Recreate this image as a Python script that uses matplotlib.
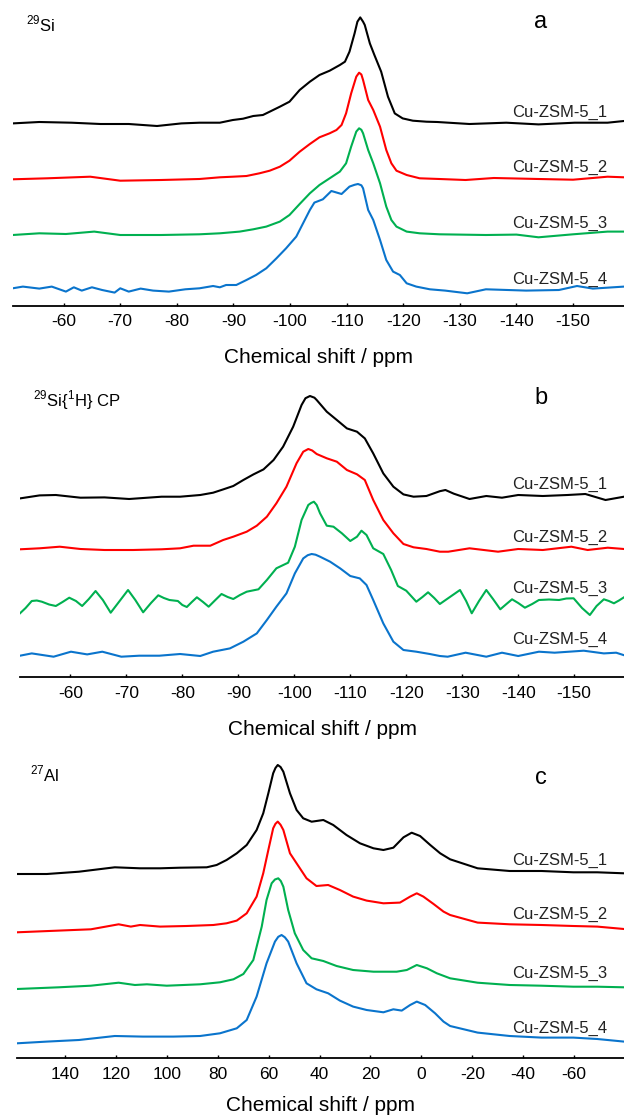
import numpy as np
import matplotlib

matplotlib.use("Agg")
import matplotlib.pyplot as plt

plt.rcParams["font.family"] = ["Liberation Sans", "DejaVu Sans"]
plt.rcParams["mathtext.fontset"] = "custom"
plt.rcParams["mathtext.rm"] = "Liberation Sans"
plt.rcParams["axes.unicode_minus"] = False

sample_labels = ["Cu-ZSM-5_1", "Cu-ZSM-5_2", "Cu-ZSM-5_3", "Cu-ZSM-5_4"]
colors = ["#000000", "#ff0000", "#00b050", "#0a74cc"]

# ---- panel a: 29Si MAS (ppm, intensity a.u.) ----
si_ppm_1 = [-51.0, -55.7, -61.4, -66.5, -71.5, -76.5, -80.8, -84.0, -87.6, -89.9,
            -91.7, -93.5, -95.2, -96.4, -98.2, -99.9, -101.7, -103.5, -105.2, -107.0,
            -108.8, -109.7, -110.5, -111.4, -111.9, -112.4, -112.9, -113.2, -114.1,
            -114.9, -116.1, -117.3, -118.5, -119.9, -121.7, -124.1, -126.0, -131.7,
            -138.2, -143.9, -150.3, -156.1, -159.0]
si_int_1 = [-0.7, 0.7, 0, -1.3, -1.3, -3.3, -0.7, 0, 0, 2.7,
            4, 6.7, 7.7, 11, 16, 21, 32.7, 41, 47.7, 52,
            57.7, 61, 71, 89.3, 101, 105.3, 101, 97.7, 79.3,
            67.7, 51, 26, 9.3, 4.3, 2, 1, 0.7, -1.3,
            0, -1.7, 0, 0, 1.7]
si_ppm_2 = [-51.0, -57.1, -64.7, -70.0, -77.2, -84.0, -87.6, -89.9, -92.3, -94.6,
            -96.4, -98.2, -99.9, -101.7, -103.5, -105.2, -107.0, -108.2, -109.1, -109.9,
            -110.8, -111.7, -112.2, -112.6, -112.9, -113.8, -114.7, -115.9, -117.0,
            -117.9, -118.8, -120.6, -122.9, -126.4, -131.0, -136.0, -143.9, -150.0,
            -156.1, -159.0]
si_int_2 = [-0.3, 0.7, 2.3, -1.7, -1, 0, 1.7, 2.3, 3, 5.7,
            8.3, 12.3, 18.3, 27.3, 35, 41.7, 45.7, 49, 54, 65.7,
            85.7, 102.3, 106.3, 104.5, 99, 79, 69, 52.3, 29,
            15.7, 8.3, 4, 0.7, 0, -1, 1, 0, -0.7,
            2.3, 1.7]
si_ppm_3 = [-51.0, -55.7, -60.4, -65.4, -70.0, -77.2, -84.0, -87.6, -91.1, -93.5,
            -95.8, -98.2, -99.9, -101.7, -103.5, -105.2, -107.0, -108.8, -109.9, -110.8,
            -111.7, -112.2, -112.6, -112.9, -113.8, -114.7, -115.9, -117.0, -117.9,
            -118.8, -120.6, -122.9, -126.4, -134.6, -140.0, -143.9, -150.0, -156.1, -159.0]
si_int_3 = [-0.7, 1, 0.3, 2.7, -0.7, -0.7, 0, 1, 2.7, 5,
            7.7, 12.7, 19.3, 30.3, 41, 49.3, 56, 62.7, 71, 87.7,
            102.7, 106, 104.5, 101, 84.3, 71, 51, 27.7, 14.3,
            7.7, 2.7, 1, 0, -0.7, -0.3, -3, 0, 2.7, 2.7]
si_ppm_4 = [-51.0, -52.8, -55.7, -57.9, -60.4, -61.8, -63.2, -65.0, -66.8, -69.0,
            -70.0, -71.5, -73.6, -75.8, -78.6, -81.5, -84.0, -86.4, -87.6, -88.7,
            -90.5, -92.3, -94.0, -95.8, -97.6, -99.3, -101.1, -102.3, -103.5, -104.3,
            -105.8, -107.3, -109.1, -110.5, -111.4, -112.0, -112.6, -112.9, -113.8,
            -114.7, -115.9, -117.0, -118.2, -119.4, -120.6, -122.3, -124.7, -127.4,
            -131.3, -134.6, -141.7, -147.5, -150.7, -153.5, -159.0]
si_int_4 = [0, 1.7, -0.3, 1.7, -3.3, 1, -2.3, 1, -1.7, -4.3,
            0, -3.3, -0.3, -2.3, -3.3, -1, 0, 2.3, 1, 3.3,
            3.3, 8.3, 13.3, 20, 30, 40, 51.7, 65, 78.3, 85.7,
            89, 97.3, 94.3, 101.7, 103.5, 104.3, 103, 100, 78.3,
            68.3, 48.3, 28.3, 16.7, 13.3, 5, 1.7, -1, -2.3,
            -5, -1, -2.3, -1.7, 2.3, -0.3, 1.7]

# ---- panel b: 29Si{1H} CP ----
cp_ppm_1 = [-51.0, -54.5, -57.4, -61.8, -66.1, -70.5, -76.3, -79.6, -83.2, -85.5,
            -87.3, -89.1, -90.9, -92.7, -94.5, -96.3, -98.0, -99.8, -101.3, -102.0,
            -102.8, -103.6, -104.0, -105.8, -107.6, -109.4, -111.2, -112.6, -114.1,
            -115.9, -117.7, -119.5, -121.3, -123.6, -126.0, -127.0, -128.5, -131.3,
            -134.3, -137.1, -140.0, -144.4, -148.8, -152.0, -155.6, -158.9]
cp_int_1 = [-1.7, 1.3, 1.7, -1, -0.7, -2.3, 0, 0, 1.7, 4,
            7.3, 10.7, 16.7, 22.3, 27.3, 36.7, 50, 70, 91.7, 98.5,
            100.7, 99, 96.7, 85, 76.7, 68.3, 65, 58.3, 43.3,
            23.3, 10, 2.3, 0, 0.7, 5.5, 6.7, 3, -2.3,
            0.7, -1, 1.7, 0.7, 1.7, 2.7, -3.3, 0]
cp_ppm_2 = [-51.0, -54.5, -58.1, -61.8, -66.1, -71.2, -76.3, -79.6, -82.0, -85.0,
            -87.3, -89.1, -91.5, -93.3, -95.1, -96.8, -98.6, -100.4, -101.6, -102.5,
            -103.2, -104.0, -105.8, -107.6, -109.4, -111.2, -112.6, -114.1, -115.9,
            -117.7, -119.5, -121.3, -123.6, -126.0, -127.5, -131.3, -136.4, -140.0,
            -144.4, -149.5, -152.4, -156.0, -158.9]
cp_int_2 = [-0.3, 0.7, 2.3, 0, -1, -1, -0.3, 0.7, 3.3, 3.3,
            9, 12.3, 17.3, 23.3, 32.3, 45.7, 62.3, 85.7, 97.3, 100,
            98.5, 95, 90.7, 87.3, 79, 74.7, 69, 49, 29,
            15.7, 5, 1.7, 0, -2.7, -2.7, 0.7, -2.7, 0,
            -1, 2.3, -1, 1.3, 0]
cp_ppm_3 = [-51.0, -52.0, -53.1, -54.0, -54.9, -56.2, -57.4, -58.6, -59.8, -61.0,
            -62.1, -63.3, -64.5, -65.8, -67.2, -68.8, -70.3, -71.6, -73.0, -74.4,
            -75.7, -76.7, -77.7, -79.2, -80.0, -80.8, -81.7, -82.6, -83.7, -84.7,
            -85.9, -87.0, -88.1, -89.1, -90.3, -91.5, -93.6, -95.1, -96.8, -98.9,
            -100.1, -101.3, -102.5, -103.0, -103.5, -104.0, -104.6, -105.8, -107.0,
            -108.5, -110.0, -111.2, -112.0, -112.9, -114.1, -115.9, -117.3, -118.5,
            -120.0, -121.8, -122.9, -123.9, -125.0, -126.0, -127.8, -129.6, -130.7,
            -131.7, -133.0, -134.3, -135.5, -136.8, -137.9, -138.9, -140.0, -141.2,
            -142.5, -143.7, -145.5, -147.3, -148.6, -149.9, -151.4, -152.8, -154.0,
            -155.3, -156.2, -157.1, -158.0, -158.9]
cp_int_3 = [-10.3, -5, 2, 2.5, 1.3, -1.5, -3, 1, 5.3, 2,
            -3, 4, 12, 3, -9.7, 2, 13, 3, -9.3, 0,
            7.7, 5, 3, 2, -2, -4, 1, 5.7, 1, -3.7,
            3, 9, 6, 4, 8, 11.3, 13.7, 23, 34.7, 40.3,
            56.3, 83, 98, 100, 101.3, 98, 89.7, 77.3, 76.3,
            69.7, 62, 66.3, 72.3, 68, 54.7, 49, 33, 17,
            12.3, 1.3, 6, 10.7, 5, -1, 6, 13, 2,
            -10.3, 2, 13, 4, -6.3, -1, 3.7, 0, -4.7,
            -1, 3, 3.5, 3, 4.5, 4.7, -5, -12, -3,
            3.7, 2, -0.3, 2.5, 5.7]
cp_ppm_4 = [-51.0, -53.1, -57.0, -60.1, -63.0, -65.7, -69.1, -72.3, -75.9, -79.6,
            -83.2, -85.5, -88.5, -90.9, -93.3, -95.1, -96.8, -98.6, -100.1, -101.6,
            -102.4, -103.1, -103.8, -104.6, -106.4, -108.2, -110.0, -111.7, -112.9,
            -114.1, -115.9, -117.7, -119.5, -121.8, -124.2, -126.0, -127.4, -130.6,
            -134.3, -137.1, -140.0, -143.7, -146.5, -151.7, -155.3, -157.5, -158.9]
cp_int_4 = [0, 2.3, -1, 4, 1.3, 4, -1, 0, 0, 1.7,
            -0.3, 4, 7.3, 14, 22.3, 35.7, 49, 62.3, 82.3, 97.3,
            100.5, 101.7, 101, 99, 94, 87.3, 79.7, 77.3, 70.7,
            55.7, 32.3, 14, 5.7, 4, 1.7, -0.3, -1, 3,
            -1, 3, -0.3, 4, 3, 5, 2.3, 3, 0.5]

# ---- panel c: 27Al ----
al_ppm_1 = [158.8, 147.1, 134.5, 120.4, 110.5, 102.6, 94.8, 84.3, 80.4, 76.5,
            72.5, 68.6, 64.7, 62.1, 60.1, 58.2, 57.3, 56.4, 55.3, 54.2,
            51.6, 49.0, 46.4, 43.1, 38.5, 34.6, 29.4, 24.1, 18.8, 14.9,
            11.0, 7.0, 3.8, 0.5, -3.5, -7.4, -11.3, -22.1, -34.7, -47.2,
            -59.7, -69.1, -79.6]
al_int_1 = [0, 0, 2.3, 6.7, 5.7, 5.7, 6.3, 6.7, 9, 14,
            20.7, 29, 44, 60.7, 80.7, 100.7, 106, 109, 107, 102.3,
            80.7, 64, 55.7, 52.3, 54, 49, 39, 30.7, 25.7, 24,
            26.3, 36.7, 41.3, 38, 29, 20.7, 14.7, 5.7, 3, 3,
            1.7, 1.7, 0.7]
al_ppm_2 = [158.8, 142.4, 129.8, 118.9, 114.1, 110.5, 102.6, 92.2, 81.7, 76.5,
            72.5, 68.6, 64.7, 62.1, 60.1, 58.2, 57.3, 56.4, 55.3, 54.2,
            51.6, 49.0, 45.1, 41.2, 36.6, 32.0, 26.8, 21.5, 14.9, 8.4,
            4.4, 1.8, -0.8, -4.8, -8.7, -11.3, -22.1, -34.7, -47.2, -59.7,
            -69.1, -79.6]
al_int_2 = [0, 1.7, 3, 8, 5.7, 7.3, 5.7, 6.3, 7.3, 9,
            11.7, 19, 35.7, 59, 82.3, 104, 108.5, 110.7, 107.5, 102.3,
            79, 69, 54, 46.3, 47.3, 42.3, 35.7, 31.7, 29, 29.7,
            35.7, 39, 35.7, 28.3, 20.7, 17.3, 9.7, 8, 7.3, 6.3,
            5.7, 3.3]
al_ppm_3 = [158.8, 142.4, 129.8, 118.9, 112.5, 107.8, 100.0, 86.9, 79.1, 73.8,
            69.9, 66.0, 62.7, 60.8, 58.8, 57.5, 56.2, 55.2, 54.2, 52.3,
            49.7, 46.4, 43.1, 38.5, 33.3, 26.8, 18.8, 9.7, 5.7, 1.8,
            -2.2, -6.1, -11.3, -22.1, -34.7, -47.2, -59.7, -69.1, -79.6]
al_int_3 = [0, 1.7, 3.3, 6.3, 4, 4.7, 3.3, 4.7, 6.7, 9.7,
            15, 29, 62.3, 89, 105.7, 109.5, 110.7, 108, 102.3, 79,
            55.7, 39, 30.7, 28, 23, 19, 17.3, 17.3, 19, 24,
            20.7, 15.7, 10.7, 6.3, 4, 3.3, 2.3, 2.3, 1.7]
al_ppm_4 = [158.8, 147.1, 134.5, 120.4, 109.5, 97.4, 86.9, 79.1, 72.5, 68.6,
            64.7, 60.8, 57.5, 56.2, 54.9, 53.6, 52.3, 49.0, 45.1, 41.2,
            36.6, 32.0, 26.8, 21.5, 14.9, 11.0, 7.7, 4.4, 1.8, -1.5,
            -5.4, -8.7, -11.3, -22.1, -34.7, -47.2, -59.7, -69.1, -79.6]
al_int_4 = [0, 1.7, 3.3, 7.3, 6.7, 6.7, 7.3, 10, 15, 23.3,
            46.7, 80, 101.7, 106.5, 108.3, 106, 101.7, 80, 60, 54,
            50, 42.7, 36.7, 33.3, 31, 34, 32.7, 38.3, 41.7, 38.3,
            30, 21.7, 17.3, 10.7, 7.3, 5.7, 5.7, 4.3, 1.7]

si_spectra = [(si_ppm_1, si_int_1), (si_ppm_2, si_int_2), (si_ppm_3, si_int_3), (si_ppm_4, si_int_4)]
cp_spectra = [(cp_ppm_1, cp_int_1), (cp_ppm_2, cp_int_2), (cp_ppm_3, cp_int_3), (cp_ppm_4, cp_int_4)]
al_spectra = [(al_ppm_1, al_int_1), (al_ppm_2, al_int_2), (al_ppm_3, al_int_3), (al_ppm_4, al_int_4)]

si_ticks = list(range(-60, -151, -10))
al_ticks = list(range(140, -61, -20))

W, H = 624, 1116
fig = plt.figure(figsize=(W / 100, H / 100), dpi=100)
AX_H = 305.5  # axes height in px, y data units == px


def panel(left, axis_y, xlim, ticks, spectra, offsets, title, title_x, title_y,
          letter, letter_y, label_ys, labelpad=14):
    ax = fig.add_axes([left / W, (H - axis_y) / H, (W - left) / W, AX_H / H])
    for (ppm, inten), off, c in zip(spectra, offsets, colors):
        ax.plot(ppm, np.array(inten) + off, color=c, lw=1.5,
                solid_joinstyle="round")
    ax.set_xlim(*xlim)
    ax.set_ylim(0, AX_H)
    for s in ["left", "right", "top"]:
        ax.spines[s].set_visible(False)
    ax.spines["bottom"].set_linewidth(1.3)
    ax.set_yticks([])
    ax.set_xticks(ticks)
    ax.tick_params(axis="x", direction="in", length=2.5, width=1.0,
                   labelsize=12.5, pad=6)
    ax.set_xlabel("Chemical shift / ppm", fontsize=15, labelpad=labelpad)
    fig.text(title_x / W, 1 - title_y / H, title, fontsize=12, va="baseline")
    fig.text(541 / W, 1 - letter_y / H, letter, fontsize=17, va="baseline", ha="center")
    for lab, ly in zip(sample_labels, label_ys):
        fig.text(512 / W, 1 - ly / H, lab, fontsize=12, va="baseline", color="#222222")
    return ax


panel(12.7, 305.5, (-51.0, -159.0), si_ticks, si_spectra,
      [182.8, 126.5, 71.2, 17.2], "$^{29}$Si", 26, 31.7,
      "a", 28.3, [116.5, 172.2, 228.2, 283.8])
panel(20.0, 677.3, (-51.0, -158.9), si_ticks, cp_spectra,
      [180.6, 128.3, 74.3, 21.6], "$^{29}$Si{$^{1}$H} CP", 33, 406.5,
      "b", 404, [488.5, 541.5, 593.2, 644.2])
panel(17.3, 1058.3, (158.7, -79.6), al_ticks, al_spectra,
      [184.3, 126.0, 69.3, 15.0], "$^{27}$Al", 30, 781.7,
      "c", 784, [864.5, 919.2, 978.2, 1032.5], labelpad=10)

fig.savefig("out.png", dpi=100)
